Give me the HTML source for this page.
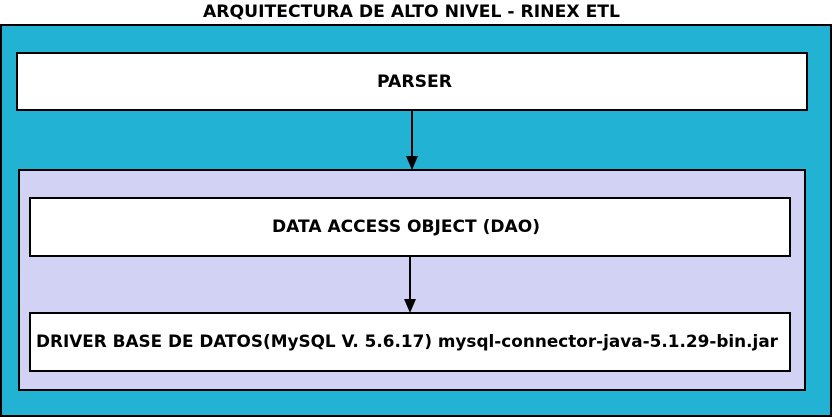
<!DOCTYPE html>
<html><head><style>body{margin:0;background:#fff}svg{display:block}text{font-family:"DejaVu Sans",sans-serif;font-weight:bold;font-size:16.5px}</style></head>
<body>
<svg width="832" height="417" xmlns="http://www.w3.org/2000/svg">
<text x="203" y="17" textLength="417" lengthAdjust="spacingAndGlyphs">ARQUITECTURA DE ALTO NIVEL - RINEX ETL</text>
<rect x="1" y="25" width="830" height="391" fill="#22b3d4" stroke="#000" stroke-width="2"/>
<rect x="17" y="53" width="790" height="57" fill="#fff" stroke="#000" stroke-width="2"/>
<text x="377" y="87" textLength="75" lengthAdjust="spacingAndGlyphs">PARSER</text>
<line x1="412" y1="110" x2="412" y2="160" stroke="#000" stroke-width="2"/>
<polygon points="406,156 418,156 412,170" fill="#000"/>
<rect x="19" y="170" width="786" height="220" fill="#d2d2f4" stroke="#000" stroke-width="2"/>
<rect x="30" y="198" width="760" height="58" fill="#fff" stroke="#000" stroke-width="2"/>
<text x="272" y="232" textLength="268" lengthAdjust="spacingAndGlyphs">DATA ACCESS OBJECT (DAO)</text>
<line x1="410" y1="256" x2="410" y2="303" stroke="#000" stroke-width="2"/>
<polygon points="404,299 416,299 410,313" fill="#000"/>
<rect x="30" y="313" width="760" height="58" fill="#fff" stroke="#000" stroke-width="2"/>
<text x="36" y="347" textLength="742" lengthAdjust="spacingAndGlyphs">DRIVER BASE DE DATOS(MySQL V. 5.6.17) mysql-connector-java-5.1.29-bin.jar</text>
</svg>
</body></html>
